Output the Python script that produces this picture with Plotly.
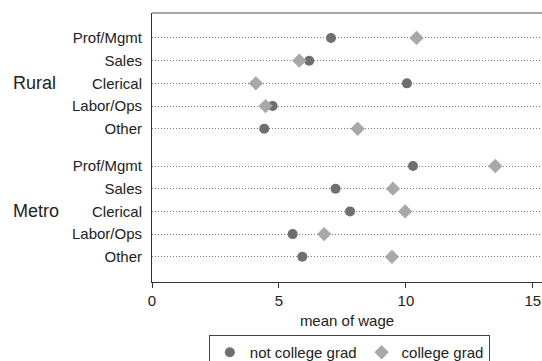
import plotly.graph_objects as go

groups = ["Rural", "Metro"]
occupations = ["Prof/Mgmt", "Sales", "Clerical", "Labor/Ops", "Other"]
not_grad_rural = [7.05, 6.19, 10.04, 4.75, 4.42]
grad_rural = [10.42, 5.80, 4.09, 4.47, 8.10]
not_grad_metro = [10.28, 7.23, 7.80, 5.54, 5.92]
grad_metro = [13.52, 9.49, 9.97, 6.78, 9.45]
x_ticks = [0, 5, 10, 15]
series_names = ["not college grad", "college grad"]

GAP = 0.64
ypos = []
ylabels = []
for gi, g in enumerate(groups):
    for oi, o in enumerate(occupations):
        ypos.append(gi * (len(occupations) + GAP) + oi)
        ylabels.append(o)

not_grad = not_grad_rural + not_grad_metro
grad = grad_rural + grad_metro

fig = go.Figure()
fig.add_trace(go.Scatter(
    x=not_grad, y=ypos, mode="markers", name=series_names[0],
    marker=dict(symbol="circle", size=10, color="#6f6f6f", line=dict(width=0)),
))
fig.add_trace(go.Scatter(
    x=grad, y=ypos, mode="markers", name=series_names[1],
    marker=dict(symbol="diamond", size=11, color="#a8a8a8", line=dict(width=0)),
))

for gi, g in enumerate(groups):
    mid = ypos[gi * len(occupations) + 2]
    fig.add_annotation(
        x=-141 / 390, xref="paper", xanchor="left",
        y=mid, yref="y", text=g, showarrow=False,
        font=dict(size=18, color="#222222"),
    )

# top frame line
fig.add_shape(type="line", xref="paper", yref="paper", x0=0, x1=1, y0=1, y1=1,
              line=dict(color="#8a8a8a", width=1.5))

fig.update_layout(
    width=542, height=361,
    margin=dict(l=152, r=0, t=13, b=79, autoexpand=False),
    paper_bgcolor="white", plot_bgcolor="white",
    font=dict(family="Liberation Sans, Arial, sans-serif", size=15, color="#222222"),
    showlegend=True,
    legend=dict(
        orientation="h", x=0.506, xanchor="center", y=-0.197, yanchor="top",
        bordercolor="#444444", borderwidth=1, font=dict(size=15),
        itemwidth=30, traceorder="normal", tracegroupgap=0,
    ),
    xaxis=dict(
        range=[0, 15.36], tickvals=x_ticks, ticktext=[str(t) for t in x_ticks],
        showgrid=False, zeroline=False, showline=True, linecolor="#333333", linewidth=1,
        ticks="outside", ticklen=5, tickcolor="#333333",
        title=dict(text="mean of wage", standoff=7, font=dict(size=15)),
    ),
    yaxis=dict(
        range=[10.75, -1.1], tickvals=ypos, ticktext=ylabels,
        showgrid=True, gridcolor="#777777", gridwidth=1, griddash="1px,2px",
        zeroline=False, showline=True, linecolor="#333333", linewidth=1,
        ticks="", ticklabelstandoff=6,
    ),
)

fig.write_html(
    "out.html",
    config={"displayModeBar": False},
    post_script="document.body.style.margin='0px';document.body.style.overflow='hidden';",
)
